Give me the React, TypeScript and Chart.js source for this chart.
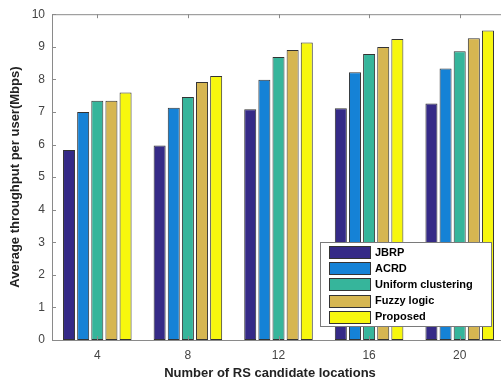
import React, { useEffect, useRef } from "react";
import { Chart, registerables } from "chart.js";

Chart.register(...registerables);

const categories = ["4", "8", "12", "16", "20"];
const seriesNames = ["JBRP", "ACRD", "Uniform clustering", "Fuzzy logic", "Proposed"];
const jbrp = [5.83, 5.97, 7.08, 7.11, 7.26];
const acrd = [7.0, 7.13, 7.99, 8.22, 8.33];
const uniform = [7.34, 7.46, 8.69, 8.78, 8.86];
const fuzzy = [7.34, 7.92, 8.9, 8.99, 9.26];
const proposed = [7.6, 8.1, 9.13, 9.24, 9.5];
const seriesColors = ["#352a87", "#1582d6", "#36b59b", "#d6b651", "#f7f70e"];
const yTicks = [0, 1, 2, 3, 4, 5, 6, 7, 8, 9, 10];
const xTitle = "Number of RS candidate locations";
const yTitle = "Average throughput per user(Mbps)";

const boxPlugin = {
  id: "boxPlugin",
  afterDraw(chart: any) {
    const { ctx, chartArea } = chart;
    const { left, right, top, bottom } = chartArea;
    const xs = chart.scales.x;
    const ys = chart.scales.y;
    ctx.save();
    ctx.strokeStyle = "#8a8a8a";
    ctx.lineWidth = 1;
    ctx.beginPath();
    ctx.moveTo(left + 0.5, bottom + 0.5);
    ctx.lineTo(left + 0.5, top + 0.5);
    ctx.lineTo(right + 0.5, top + 0.5);
    ctx.lineTo(right + 0.5, bottom + 0.5);
    ctx.lineTo(left + 0.5, bottom + 0.5);
    ctx.stroke();
    const tl = 4;
    ctx.beginPath();
    yTicks.forEach((v) => {
      const y = Math.round(ys.getPixelForValue(v)) + 0.5;
      ctx.moveTo(left, y);
      ctx.lineTo(left + tl, y);
      ctx.moveTo(right, y);
      ctx.lineTo(right - tl, y);
    });
    categories.forEach((_, i) => {
      const x = Math.round(xs.getPixelForValue(i)) + 0.5;
      ctx.moveTo(x, bottom);
      ctx.lineTo(x, bottom - tl);
      ctx.moveTo(x, top);
      ctx.lineTo(x, top + tl);
    });
    ctx.stroke();

    // titles
    ctx.fillStyle = "#222";
    ctx.font = "bold 13px 'Liberation Sans', Arial, sans-serif";
    ctx.textAlign = "center";
    ctx.textBaseline = "middle";
    ctx.fillText(xTitle, 270, 373);
    ctx.save();
    ctx.translate(15, (top + bottom) / 2);
    ctx.rotate(-Math.PI / 2);
    ctx.fillText(yTitle, 0, 0);
    ctx.restore();

    // legend
    const lx = 320.5, ly = 242.5, lw = 171, lh = 84;
    ctx.fillStyle = "#ffffff";
    ctx.fillRect(lx, ly, lw, lh);
    ctx.strokeStyle = "#7a7a7a";
    ctx.strokeRect(lx, ly, lw, lh);
    ctx.font = "bold 11px 'Liberation Sans', Arial, sans-serif";
    ctx.textAlign = "left";
    chart.data.datasets.forEach((ds: any, i: number) => {
      const cy = 252 + i * 16.2;
      ctx.fillStyle = ds.backgroundColor;
      ctx.fillRect(329.5, Math.round(cy - 6) + 0.5, 41, 12);
      ctx.strokeStyle = "#333";
      ctx.strokeRect(329.5, Math.round(cy - 6) + 0.5, 41, 12);
      ctx.fillStyle = "#000";
      ctx.fillText(ds.label, 375, cy + 0.5);
    });
    ctx.restore();
  },
};

export default function App() {
  const ref = useRef<HTMLCanvasElement>(null);
  useEffect(() => {
    document.body.style.margin = "0";
    const values = [jbrp, acrd, uniform, fuzzy, proposed];
    const chart = new Chart(ref.current as HTMLCanvasElement, {
      type: "bar",
      data: {
        labels: categories,
        datasets: seriesNames.map((name, i) => ({
          label: name,
          data: values[i],
          backgroundColor: seriesColors[i],
          borderColor: "#333333",
          borderWidth: 1,
          borderSkipped: false,
          categoryPercentage: 0.78,
          barPercentage: 0.85,
        })),
      },
      options: {
        animation: false,
        responsive: false,
        maintainAspectRatio: false,
        layout: { padding: { top: 10, right: 15, left: 0, bottom: 0 } },
        plugins: { legend: { display: false }, tooltip: { enabled: false } },
        scales: {
          x: {
            grid: { display: false, drawTicks: false },
            border: { display: false },
            ticks: {
              color: "#444",
              font: { size: 12, family: "'Liberation Sans', Arial, sans-serif" },
              padding: 8,
            },
            afterFit(scale: any) {
              scale.height = 45;
            },
          },
          y: {
            min: 0,
            max: 10,
            grid: { display: false, drawTicks: false },
            border: { display: false },
            ticks: {
              stepSize: 1,
              color: "#444",
              font: { size: 12, family: "'Liberation Sans', Arial, sans-serif" },
              padding: 7,
            },
            afterFit(scale: any) {
              scale.width = 52;
            },
          },
        },
      },
      plugins: [boxPlugin],
    });
    return () => chart.destroy();
  }, []);
  return (
    <div style={{ width: 501, height: 385, overflow: "hidden", position: "relative" }}>
      <canvas ref={ref} width={520} height={385} style={{ display: "block" }} />
    </div>
  );
}
